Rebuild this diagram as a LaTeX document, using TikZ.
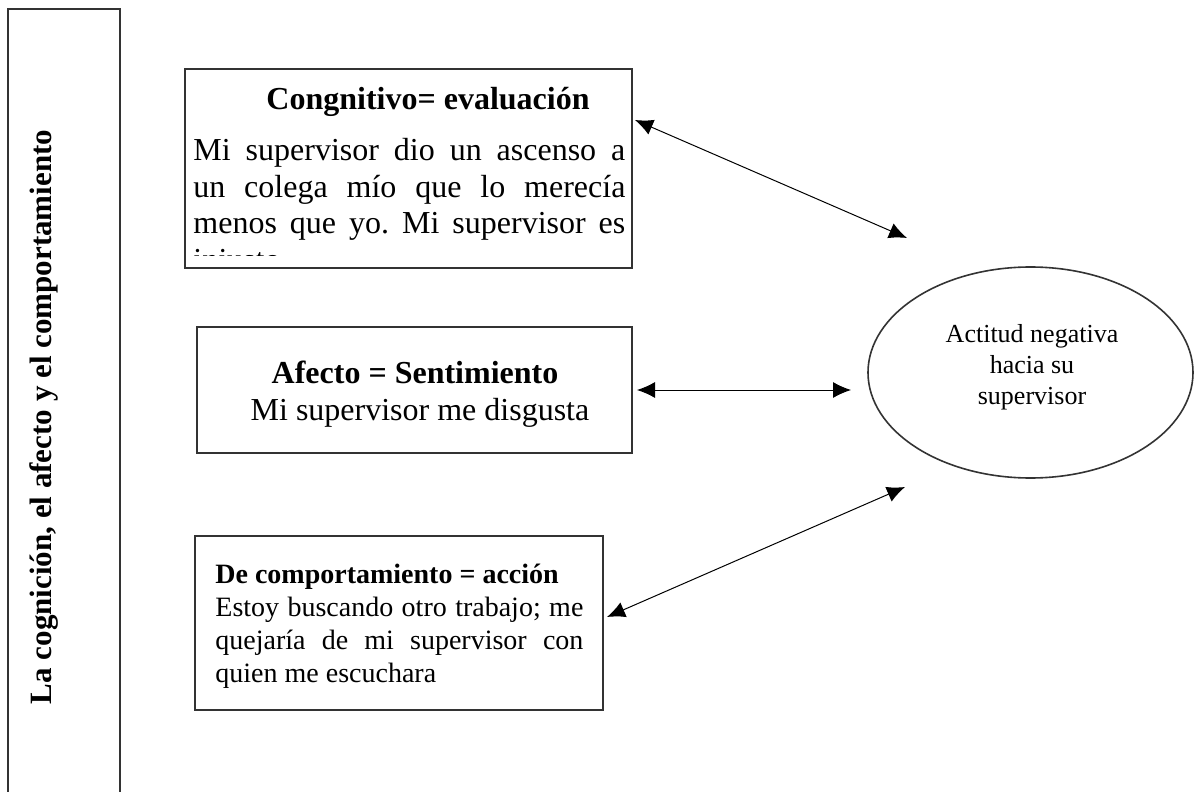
\documentclass[tikz,border=0pt]{standalone}
\usepackage{fontspec}
\setmainfont{Liberation Serif}
\usetikzlibrary{arrows.meta,shapes.geometric}
\frenchspacing

\tikzset{
  frame/.style={draw=black!80, line width=0.8pt, inner sep=0pt},
  both/.style={{Latex[length=9pt,width=8pt]}-{Latex[length=9pt,width=8pt]}, line width=0.5pt},
}

\begin{document}
\begin{tikzpicture}[x=0.5pt,y=-0.5pt]
      \useasboundingbox (0,0) rectangle (1195,792) ;
      % columna lateral
      \node[frame,minimum width=56pt,minimum height=410.5pt] (side) at (64,419.5) {} ;
      \node[rotate=90,font=\fontsize{15.5}{18}\selectfont\bfseries] %
      (sideText) at (44,417) {La cognición, el afecto y el comportamiento} ;
      % cajas y elipse
      \node[frame,minimum width=223.5pt,minimum height=99.5pt] (cog) at (408.5,168.5) {} ;
      \node[frame,minimum width=217.5pt,minimum height=63pt] (afe) at (414.5,390) {} ;
      \node[frame,minimum width=204pt,minimum height=87pt] (com) at (399,623) {} ;
      \node[frame,ellipse,minimum width=162.5pt,minimum height=105.5pt] (act) at (1030.5,372.5) {} ;
      % textos
      \node[anchor=base,font=\fontsize{16}{18.3}\selectfont\bfseries] %
      (cogTitle) at (428,110) {Congnitivo= evaluación} ;
      \begin{scope}
        \clip (187,71) rectangle (630,255) ;
        \node[anchor=north west,inner sep=0pt,text width=216pt,align=justify,%
        font=\fontsize{16}{18.3}\selectfont] (cogText) at (193,134.4) %
        {\noindent\strut Mi supervisor dio un ascenso a\linebreak un colega mío que lo merecía\linebreak menos que yo. Mi supervisor es\linebreak injusto} ;
      \end{scope}
      \node[anchor=base,font=\fontsize{16}{18.5}\selectfont\bfseries] %
      (afeTitle) at (415,383) {Afecto = Sentimiento} ;
      \node[anchor=base,font=\fontsize{16}{18.5}\selectfont] %
      (afeText) at (420,420) {Mi supervisor me disgusta} ;
      \node[anchor=north west,inner sep=0pt,text width=184pt,align=justify,%
      font=\fontsize{14}{16.5}\selectfont] (comText) at (215,560) %
      {\noindent\strut\textbf{De comportamiento = acción}\\ Estoy buscando otro trabajo; me\linebreak quejaría de mi supervisor con\linebreak quien me escuchara} ;
      \node[align=center,font=\fontsize{13}{15.5}\selectfont] %
      (actText) at (1032,367) {Actitud negativa\\hacia su\\supervisor} ;
      % flechas
      \coordinate (c1a) at (635,120) ;
      \coordinate (c1b) at (907,238) ;
      \coordinate (c2a) at (637,390) ;
      \coordinate (c2b) at (851,390) ;
      \coordinate (c3a) at (607,617) ;
      \coordinate (c3b) at (905,487) ;
      \draw[both] (c1a) -- (c1b) ;
      \draw[both] (c2a) -- (c2b) ;
      \draw[both] (c3a) -- (c3b) ;
    \end{tikzpicture}
\end{document}
